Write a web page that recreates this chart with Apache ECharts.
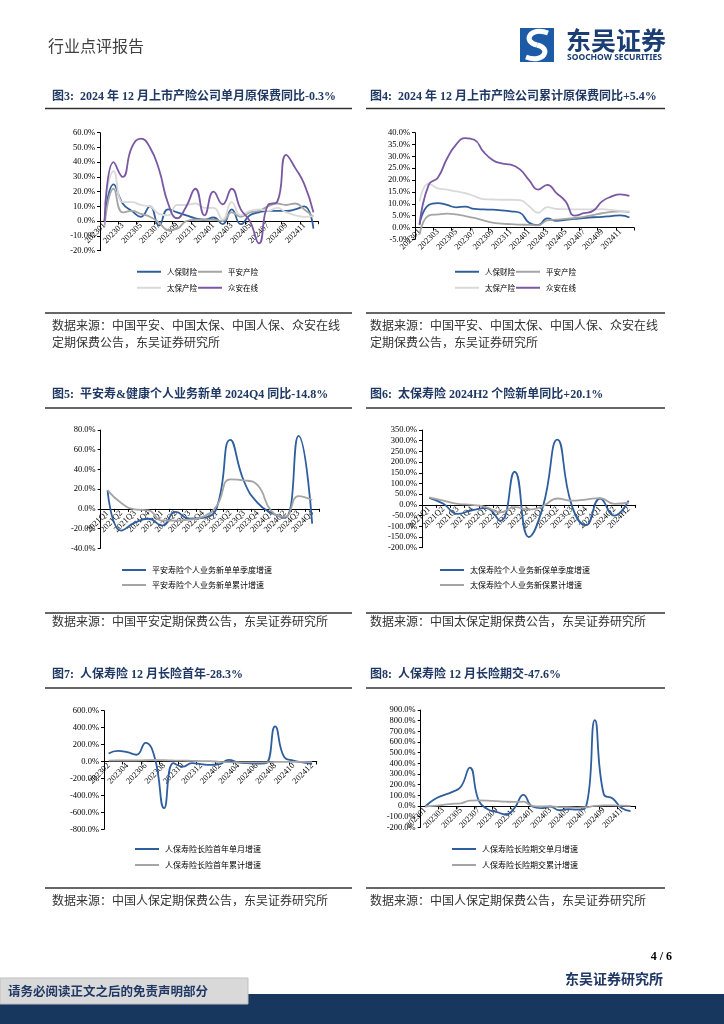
<!DOCTYPE html>
<html><head><meta charset="utf-8">
<script src="https://cdn.jsdelivr.net/npm/echarts@6/dist/echarts.min.js"></script>
<style>html,body{margin:0;padding:0;background:#fff}#c{width:724px;height:1024px}</style>
</head><body><div id="c"></div>
<script>
// ---------- categories ----------
const months24 = ['202301','202302','202303','202304','202305','202306','202307','202308','202309','202310','202311','202312','202401','202402','202403','202404','202405','202406','202407','202408','202409','202410','202411','202412'];
const months23 = ['202302','202303','202304','202305','202306','202307','202308','202309','202310','202311','202312','202401','202402','202403','202404','202405','202406','202407','202408','202409','202410','202411','202412'];
const quarters16 = ['2021Q1','2021Q2','2021Q3','2021Q4','2022Q1','2022Q2','2022Q3','2022Q4','2023Q1','2023Q2','2023Q3','2023Q4','2024Q1','2024Q2','2024Q3','2024Q4'];
const periods15 = ['2021Q1','2021Q2','2021Q3','2021Q4','2022Q1','2022Q2','2022Q3','2022Q4','2023Q1','2023Q2','2023Q3','2023Q4','2024Q1','2024Q2','2024H2'];

// ---------- Fig3: monthly premium YoY (%) ----------
const f3Renbao  = [0, 25, 12, 7, 3, 10, -3, 8, 6, 4, 2, 1, 2.5, -2, 8, -2, 4, 6, 7, 7, 7, 8, 10, -5];
const f3Pingan  = [-3, 22, 6, 7, 5, 3, -1, -6, -5, 0, 1, 1, 1, 0, 6, 3, 6, 7, 10, 12, 11, 12, 8, 3];
const f3Taibao  = [11, 34, 13, 13, 11, 10, 5, 4, 11, 11, 12, 9, 9, 1, 13, 4, 7, 8, 7, 9, 6, 4, 3, 3.5];
const f3Zhongan = [0, 40, 30, 50, 56, 50, 35, 12, 2, 10, 22, 4, 20, 11.5, 22, 8, 0, -15, 11, 13, 45, 36, 25, 6];

// ---------- Fig4: cumulative premium YoY (%) ----------
const f4Renbao  = [1.5, 9.5, 10.3, 9.5, 8.5, 8.8, 7.8, 7.6, 7.5, 7.2, 6.8, 6.2, 2, 1, 3.8, 2.8, 3.2, 3.6, 4.0, 4.3, 4.5, 4.8, 5.1, 4.2];
const f4Pingan  = [-3, 5, 5.5, 5.8, 5.5, 4.8, 4, 3, 2, 1.6, 1.4, 1.2, 1.1, 0.9, 3.0, 3.3, 3.6, 4.0, 4.5, 5.2, 6.0, 6.6, 6.8, 6.5];
const f4Taibao  = [11, 18.5, 16.5, 16, 15.2, 14.5, 13.2, 12, 11.8, 11.7, 11.7, 11.5, 9, 6.2, 8.6, 7.8, 7.7, 7.6, 7.6, 7.6, 7.7, 7.4, 7.0, 6.8];
const f4Zhongan = [1, 18, 21, 29, 35, 37.7, 37, 32, 28.5, 27, 26.5, 24.5, 20, 16, 18, 14.5, 11, 5, 6, 7, 11, 13, 14, 13.3];

// ---------- Fig5: Ping An life new business (%) ----------
const f5Quarter = [19, -22, -14, -10, -17, -3, -10, -9, 1, 70, 28, 6, -4, -9, 74, -15];
const f5Cum     = [19, 6, -0.5, -1.5, -12, -12, -11, -8, 3, 30, 29, 24, -2, -8, 13, 9];

// ---------- Fig6: CPIC life new business (%) ----------
const f6Quarter = [33, 5, -42, -25, -15, -75, 155, -150, -5, 305, 0, -95, 30, -50, 20];
const f6Cum     = [35, 20, 5, 0, -10, -35, -10, -22, -5, 30, 20, 25, 32, 5, 10];

// ---------- Fig7: PICC life first-year long-term (%) ----------
const f7Month = [95, 125, 110, 80, 220, 40, -550, -20, -60, -20, -30, -40, -30, 20, -10, -20, -25, -20, 415, 50, 10, -10, -28];
const f7Cum   = [10, 12, 12, 12, 15, 18, 15, 12, 10, 8, 5, 5, -5, -8, -10, -10, -10, -10, -5, -5, -5, -5, -8];

// ---------- Fig8: PICC life long-term regular (%) ----------
const f8Month = [-5, 60, 100, 130, 180, 360, 50, -30, -55, -80, -20, 105, -5, -20, -5, -40, -30, -35, -10, 805, 110, 70, -20, -48];
const f8Cum   = [-5, 0, 10, 20, 25, 50, 52, 50, 45, 40, 38, 40, 0, -5, -3, -10, -12, -15, -12, 0, 5, 5, 3, 0];

// ---------- styling ----------
const SERIF = '"Liberation Serif","Times New Roman","Noto Sans CJK SC",serif';
const CJK = '"Noto Sans CJK SC","Liberation Serif",sans-serif';
const NAVY = '#1F3864';
const BLUE = '#2F5E9C', GRAY = '#A5A5A5', LIGHT = '#D9D9D9', PURPLE = '#7A58A3';

const grids = [
  {left:100, top:132.7, width:218, height:118},
  {left:415, top:132.7, width:219, height:106.6},
  {left:100.7, top:430, width:218.3, height:118.3},
  {left:422, top:430, width:213.7, height:117.7},
  {left:104, top:710.7, width:212.7, height:118.6},
  {left:420.7, top:710, width:214.3, height:117.3}
];
const yRanges = [[-20, 60, 10], [-5, 40, 5], [-40, 80, 20], [-200, 350, 50], [-800, 600, 200], [-200, 900, 100]];

function xAx(g, data, interval) {
  const r = yRanges[g];
  const lift = grids[g].height * (-r[0]) / (r[1] - r[0]); // move axis from bottom up to the zero line
  return {gridIndex:g, type:'category', data, boundaryGap:true, position:'bottom', offset:-lift,
    axisLine:{onZero:false, lineStyle:{color:'#000', width:1}},
    axisTick:{show:true, length:3, lineStyle:{color:'#000'}},
    axisLabel:{rotate:45, interval, fontSize:8.5, fontFamily:SERIF, color:'#000', margin:3}};
}
function yAx(g) {
  const r = yRanges[g];
  return {gridIndex:g, type:'value', min:r[0], max:r[1], interval:r[2],
    axisLine:{show:true, onZero:false, lineStyle:{color:'#000', width:1}},
    axisTick:{show:true, length:3, lineStyle:{color:'#000'}},
    splitLine:{show:false},
    axisLabel:{formatter:v => v.toFixed(1) + '%', fontSize:8.5, fontFamily:SERIF, color:'#000', margin:5}};
}
function ln(name, g, data, color) {
  return {name, type:'line', xAxisIndex:g, yAxisIndex:g, data, smooth:true, symbol:'none',
    lineStyle:{color, width:1.8}, itemStyle:{color}, animation:false};
}
function lg(name, left, cy, fs) {
  return {data:[name], left, top:cy - 5, padding:0, itemWidth:24, itemHeight:2, icon:'rect', itemGap:0,
    selectedMode:false,
    textStyle:{fontSize:fs || 8, fontFamily:CJK, color:'#000', padding:[0,0,0,1]}};
}
function txt(x, y, s, fs, opts) {
  opts = opts || {};
  return {type:'text', x, y, silent:true, style:{text:s, fontSize:fs, fontFamily:opts.family || SERIF,
    fontWeight:opts.weight || 'normal', fill:opts.color || '#333',
    textAlign:opts.align || 'left', align:opts.align || 'left',
    textVerticalAlign:'middle', verticalAlign:'middle'}};
}
function hl(x1, x2, y) {
  return {type:'line', silent:true, shape:{x1, y1:y, x2, y2:y}, style:{stroke:'#333', lineWidth:1.5}};
}

const L1 = 45, L2 = 352, R1 = 366, R2 = 665;
const graphics = [
  // header
  txt(48, 46, '行业点评报告', 16, {family:CJK, color:'#404040'}),
  {type:'rect', silent:true, shape:{x:520, y:28, width:34, height:34}, style:{fill:'#1E5BA6'}},
  {type:'bezierCurve', silent:true, shape:{x1:548, y1:33, cpx1:530, cpy1:26, cpx2:522, cpy2:42, x2:537, y2:45}, style:{stroke:'#fff', lineWidth:5, fill:null}},
  {type:'bezierCurve', silent:true, shape:{x1:537, y1:45, cpx1:552, cpy1:48, cpx2:544, cpy2:64, x2:526, y2:57}, style:{stroke:'#fff', lineWidth:5, fill:null}},
  txt(566, 40, '东吴证券', 25, {family:CJK, color:'#1A3D73', weight:'bold'}),
  txt(567, 58, 'SOOCHOW SECURITIES', 8.5, {family:'"Noto Sans","DejaVu Sans",sans-serif', color:'#1A3D73', weight:'bold'}),
  // titles row 1
  txt(52, 97, '图3:  2024 年 12 月上市产险公司单月原保费同比-0.3%', 12, {color:NAVY, weight:'bold'}),
  txt(370, 97, '图4:  2024 年 12 月上市产险公司累计原保费同比+5.4%', 12, {color:NAVY, weight:'bold'}),
  hl(L1, L2, 108.5), hl(R1, R2, 108.5),
  hl(L1, L2, 313), hl(R1, R2, 313),
  txt(52, 325, '数据来源：中国平安、中国太保、中国人保、众安在线', 12, {family:CJK, color:'#333'}),
  txt(52, 342, '定期保费公告，东吴证券研究所', 12, {family:CJK, color:'#333'}),
  txt(370, 325, '数据来源：中国平安、中国太保、中国人保、众安在线', 12, {family:CJK, color:'#333'}),
  txt(370, 342, '定期保费公告，东吴证券研究所', 12, {family:CJK, color:'#333'}),
  // titles row 2
  txt(52, 395, '图5:  平安寿&健康个人业务新单 2024Q4 同比-14.8%', 12, {color:NAVY, weight:'bold'}),
  txt(370, 395, '图6:  太保寿险 2024H2 个险新单同比+20.1%', 12, {color:NAVY, weight:'bold'}),
  hl(L1, L2, 408), hl(R1, R2, 408),
  hl(L1, L2, 613), hl(R1, R2, 613),
  txt(52, 621, '数据来源：中国平安定期保费公告，东吴证券研究所', 12, {family:CJK, color:'#333'}),
  txt(370, 621, '数据来源：中国太保定期保费公告，东吴证券研究所', 12, {family:CJK, color:'#333'}),
  // titles row 3
  txt(52, 675, '图7:  人保寿险 12 月长险首年-28.3%', 12, {color:NAVY, weight:'bold'}),
  txt(370, 675, '图8:  人保寿险 12 月长险期交-47.6%', 12, {color:NAVY, weight:'bold'}),
  hl(L1, L2, 688), hl(R1, R2, 688),
  hl(L1, L2, 888), hl(R1, R2, 888),
  txt(52, 900, '数据来源：中国人保定期保费公告，东吴证券研究所', 12, {family:CJK, color:'#333'}),
  txt(370, 900, '数据来源：中国人保定期保费公告，东吴证券研究所', 12, {family:CJK, color:'#333'}),
  // footer
  txt(672, 957, '4 / 6', 12, {color:'#000', weight:'bold', align:'right'}),
  txt(565, 979, '东吴证券研究所', 14, {family:CJK, color:NAVY, weight:'bold'}),
  {type:'rect', silent:true, shape:{x:0, y:994, width:724, height:30}, style:{fill:'#17375E'}},
  {type:'rect', silent:true, shape:{x:0, y:978, width:248, height:26}, style:{fill:'#D9D9D9', stroke:'#BFBFBF', lineWidth:1}},
  txt(8, 991, '请务必阅读正文之后的免责声明部分', 12.5, {family:CJK, color:NAVY, weight:'bold'})
];

const option = {
  backgroundColor:'#fff',
  animation:false,
  grid:grids,
  xAxis:[xAx(0, months24, 1), xAx(1, months24, 1), xAx(2, quarters16, 0), xAx(3, periods15, 0), xAx(4, months23, 1), xAx(5, months24, 1)],
  yAxis:[yAx(0), yAx(1), yAx(2), yAx(3), yAx(4), yAx(5)],
  series:[
    ln('人保财险', 0, f3Renbao, BLUE), ln('平安产险', 0, f3Pingan, GRAY), ln('太保产险', 0, f3Taibao, LIGHT), ln('众安在线', 0, f3Zhongan, PURPLE),
    ln('人保财险 ', 1, f4Renbao, BLUE), ln('平安产险 ', 1, f4Pingan, GRAY), ln('太保产险 ', 1, f4Taibao, LIGHT), ln('众安在线 ', 1, f4Zhongan, PURPLE),
    ln('平安寿险个人业务新单单季度增速', 2, f5Quarter, BLUE), ln('平安寿险个人业务新单累计增速', 2, f5Cum, GRAY),
    ln('太保寿险个人业务新保单季度增速', 3, f6Quarter, BLUE), ln('太保寿险个人业务新保累计增速', 3, f6Cum, GRAY),
    ln('人保寿险长险首年单月增速', 4, f7Month, BLUE), ln('人保寿险长险首年累计增速', 4, f7Cum, GRAY),
    ln('人保寿险长险期交单月增速', 5, f8Month, BLUE), ln('人保寿险长险期交累计增速', 5, f8Cum, GRAY)
  ],
  legend:[
    lg('人保财险', 137, 273, 7.5), lg('平安产险', 198, 273, 7.5), lg('太保产险', 137, 289, 7.5), lg('众安在线', 198, 289, 7.5),
    lg('人保财险 ', 455, 273, 7.5), lg('平安产险 ', 516, 273, 7.5), lg('太保产险 ', 455, 289, 7.5), lg('众安在线 ', 516, 289, 7.5),
    lg('平安寿险个人业务新单单季度增速', 122, 571), lg('平安寿险个人业务新单累计增速', 122, 586),
    lg('太保寿险个人业务新保单季度增速', 440, 571), lg('太保寿险个人业务新保累计增速', 440, 586),
    lg('人保寿险长险首年单月增速', 135, 850), lg('人保寿险长险首年累计增速', 135, 866),
    lg('人保寿险长险期交单月增速', 452, 850), lg('人保寿险长险期交累计增速', 452, 866)
  ],
  graphic:{elements:graphics}
};
const chart = echarts.init(document.getElementById('c'), null, {renderer:'canvas'});
chart.setOption(option);
</script>
</body></html>
